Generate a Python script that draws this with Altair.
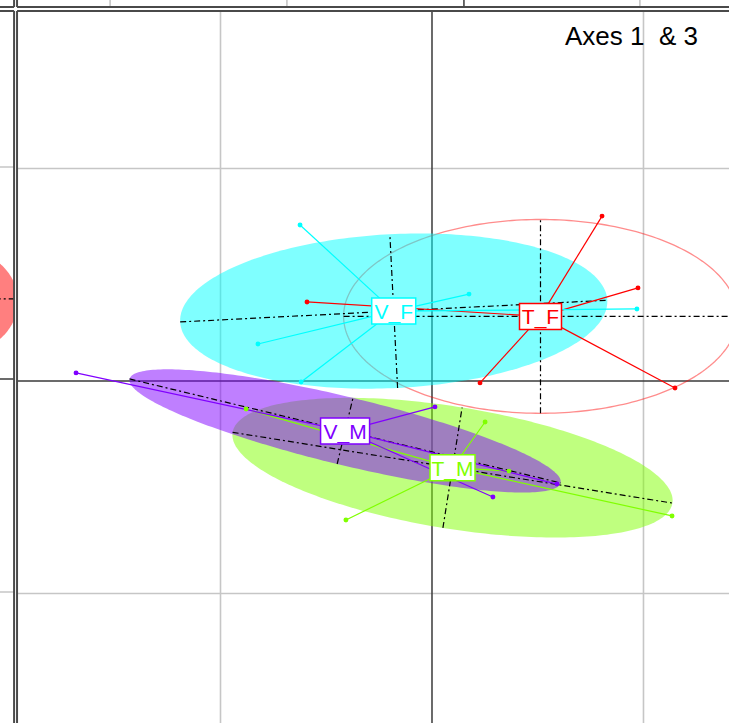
import numpy as np
import pandas as pd
import altair as alt

# ---- groups (factor levels) and their colours ----
groups = ["T_F", "T_M", "V_F", "V_M"]
colors = ["#FF0000", "#80FF00", "#00FFFF", "#8000FF"]

# group centroids (label positions, ellipse centres)
cent_x = [0.513, 0.097, -0.181, -0.411]
cent_y = [0.304, -0.408, 0.329, -0.235]

# inertia ellipses: semi-axes and rotation (degrees)
ell_a = [0.931, 1.053, 1.011, 1.048]
ell_b = [0.456, 0.287, 0.362, 0.160]
ell_ang = [0.0, -9.1, 2.9, -13.5]
ell_filled = [False, True, True, True]

# individual scores on axes 1 and 3
pt_group = ["T_F"] * 5 + ["T_M"] * 5 + ["V_F"] * 5 + ["V_M"] * 4
pt_x = [0.804, 0.974, 0.227, 1.149, -0.591,
        -0.879, 0.251, 0.364, 1.135, -0.407,
        -0.624, -0.823, -0.619, 0.175, 0.969,
        -1.683, 0.014, 0.288, 0.591]
pt_y = [0.776, 0.438, -0.009, -0.033, 0.372,
        -0.132, -0.193, -0.424, -0.635, -0.654,
        0.734, 0.174, -0.005, 0.409, 0.339,
        0.038, -0.122, -0.546, -0.485]

# grid of this panel
grid_minor = [-1.0, 1.0]
grid_origin = [0.0]

# panel limits (this panel and the neighbouring panels of the layout)
xlim_min = -1.962
ylim_max = 1.741
left_xmax = -1.976
top_ymin = 1.760

# neighbouring panels: grid lines and a visible ellipse fragment
left_grid = [1.007, -0.993]
left_origin = [0.009]
top_grid = [-1.522, -0.686, 0.983]
top_origin = [0.151]
left_ell = dict(cx=-2.232, cy=0.375, a=0.274, b=0.245, ang=0.0)

# label box widths (px) and height
box_w = {"T_F": 42, "T_M": 45, "V_F": 44, "V_M": 49}
box_h = 26

# ---- view ----
W, H = 729, 723
xs = alt.Scale(domain=[-2.0426, 1.4043], nice=False, zero=False)
ys = alt.Scale(domain=[-1.6094, 1.7929], nice=False, zero=False)
FAR_R, FAR_L, FAR_T, FAR_B = 1.6, -2.2, 1.9, -1.8
cscale = alt.Scale(domain=groups, range=colors)


def X(f="x"):
    return alt.X(f"{f}:Q", scale=xs, axis=None)


def Y(f="y"):
    return alt.Y(f"{f}:Q", scale=ys, axis=None)


def ellipse_df(cx, cy, a, b, ang, n=260):
    t = np.linspace(0, 2 * np.pi, n, endpoint=False)
    th = np.deg2rad(ang)
    x = cx + a * np.cos(th) * np.cos(t) - b * np.sin(th) * np.sin(t)
    y = cy + a * np.sin(th) * np.cos(t) + b * np.cos(th) * np.sin(t)
    return pd.DataFrame({"x": x, "y": y, "i": np.arange(n)})


def seg(x, y, x2, y2):
    return {"x": x, "y": y, "x2": x2, "y2": y2}


def rules(rows, color, width, dash=None):
    kw = dict(color=color, strokeWidth=width, clip=True)
    if dash:
        kw["strokeDash"] = dash
    return alt.Chart(pd.DataFrame(rows)).mark_rule(**kw).encode(
        x=X(), y=Y(), x2="x2:Q", y2="y2:Q")


layers = []

# grid lines
gray = [seg(v, ylim_max, v, FAR_B) for v in grid_minor]
gray += [seg(xlim_min, v, FAR_R, v) for v in grid_minor]
gray += [seg(FAR_L, v, left_xmax, v) for v in left_grid]
gray += [seg(v, top_ymin, v, FAR_T) for v in top_grid]
layers.append(rules(gray, "#c6c6c6", 1.6))

dark = [seg(v, ylim_max, v, FAR_B) for v in grid_origin]
dark += [seg(xlim_min, v, FAR_R, v) for v in grid_origin]
dark += [seg(FAR_L, v, left_xmax, v) for v in left_origin]
dark += [seg(v, top_ymin, v, FAR_T) for v in top_origin]
layers.append(rules(dark, "#3a3a3a", 1.5))

# ellipse fragment of the left-hand panel, cut at that panel's edge
le = ellipse_df(**left_ell)
le["x"] = np.minimum(le["x"], left_xmax)
layers.append(alt.Chart(le).mark_line(
    fill="#FF0000", fillOpacity=0.5, strokeOpacity=0, interpolate="linear-closed",
    clip=True).encode(x=X(), y=Y(), order="i:Q"))
layers.append(rules([seg(FAR_L, 0.386, left_xmax, 0.386)],
                    "black", 1.2, [6, 3, 2, 3]))

# inertia ellipses, drawn in level order
for g, c, cx, cy, a, b, ang, filled in zip(groups, colors, cent_x, cent_y,
                                           ell_a, ell_b, ell_ang, ell_filled):
    e = ellipse_df(cx, cy, a, b, ang)
    if filled:
        mk = dict(fill=c, fillOpacity=0.5, strokeOpacity=0)
    else:
        mk = dict(stroke=c, strokeOpacity=0.45, strokeWidth=1.3, fillOpacity=0)
    layers.append(alt.Chart(e).mark_line(
        interpolate="linear-closed", clip=True, **mk).encode(
        x=X(), y=Y(), order="i:Q"))

# ellipse axes (dash-dot)
axes_rows = []
for cx, cy, a, b, ang in zip(cent_x, cent_y, ell_a, ell_b, ell_ang):
    th = np.deg2rad(ang)
    axes_rows.append(seg(cx - a * np.cos(th), cy - a * np.sin(th),
                         cx + a * np.cos(th), cy + a * np.sin(th)))
    axes_rows.append(seg(cx + b * np.sin(th), cy - b * np.cos(th),
                         cx - b * np.sin(th), cy + b * np.cos(th)))
layers.append(rules(axes_rows, "black", 1.2, [6, 3, 2, 3]))

# stars: centroid -> each individual
cmap = dict(zip(groups, zip(cent_x, cent_y)))
pts = pd.DataFrame({"group": pt_group, "x": pt_x, "y": pt_y})
pts["cx"] = [cmap[g][0] for g in pts["group"]]
pts["cy"] = [cmap[g][1] for g in pts["group"]]
layers.append(alt.Chart(pts).mark_rule(strokeWidth=1.2, clip=True).encode(
    x=X("cx"), y=Y("cy"), x2="x:Q", y2="y:Q",
    color=alt.Color("group:N", scale=cscale, legend=None)))

# individuals
layers.append(alt.Chart(pts).mark_point(
    filled=True, size=24, opacity=1, clip=True).encode(
    x=X(), y=Y(), color=alt.Color("group:N", scale=cscale, legend=None)))

# group labels in boxes
lab = pd.DataFrame({"group": groups, "x": cent_x, "y": cent_y})
R = 25.0
lab["box"] = [
    "M{0:.3f},{1:.3f}L{2:.3f},{1:.3f}L{2:.3f},{3:.3f}L{0:.3f},{3:.3f}Z".format(
        -box_w[g] / 2 / R, -box_h / 2 / R, box_w[g] / 2 / R, box_h / 2 / R)
    for g in groups]
layers.append(alt.Chart(lab).mark_point(
    filled=True, fill="white", fillOpacity=1, strokeWidth=1.5, opacity=1,
    size=(2 * R) ** 2).encode(
    x=X(), y=Y(), shape=alt.Shape("box:N", scale=None),
    stroke=alt.Stroke("group:N", scale=cscale, legend=None)))
layers.append(alt.Chart(lab).mark_text(
    font="Liberation Sans", fontSize=21, baseline="middle", align="center",
    dy=2).encode(
    x=X(), y=Y(), text="group:N",
    color=alt.Color("group:N", scale=cscale, legend=None)))

# panel frames
frames = [
    seg(xlim_min, ylim_max, xlim_min, FAR_B), seg(xlim_min, ylim_max, FAR_R, ylim_max),
    seg(left_xmax, ylim_max, left_xmax, FAR_B), seg(FAR_L, ylim_max, left_xmax, ylim_max),
    seg(xlim_min, top_ymin, FAR_R, top_ymin), seg(xlim_min, top_ymin, xlim_min, FAR_T),
    seg(FAR_L, top_ymin, left_xmax, top_ymin), seg(left_xmax, top_ymin, left_xmax, FAR_T),
]
layers.append(rules(frames, "#4a4a4a", 2))

# panel caption
layers.append(alt.Chart(pd.DataFrame({"t": ["Axes 1\u00a0 & 3"]})).mark_text(
    font="Liberation Sans", fontSize=26, align="right", baseline="alphabetic",
    color="black").encode(x=alt.value(698), y=alt.value(45), text="t:N"))

chart = alt.layer(*layers).properties(
    width=W, height=H, autosize=alt.AutoSizeParams(type="none"),
    padding=0, background="white",
).configure_view(stroke=None)

chart.save("out.html", embed_options={"renderer": "svg", "actions": False})
